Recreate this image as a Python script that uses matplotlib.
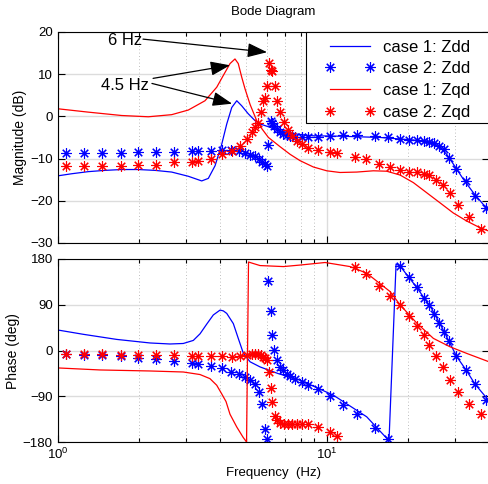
import matplotlib
matplotlib.use("Agg")
import matplotlib.pyplot as plt
from matplotlib.ticker import LogLocator, NullFormatter
from matplotlib.patches import Rectangle

plt.rcParams['font.family'] = ['Liberation Sans', 'DejaVu Sans']

# ---------------- case 1 (solid lines) ----------------
f_zdd1_mag = [1.000, 1.127, 1.299, 1.499, 1.729, 1.994, 2.300, 2.653, 3.059, 3.43, 3.63, 3.845,
              4.071, 4.25, 4.436, 4.63, 4.83, 5.11, 5.41, 5.65, 6.16, 6.71, 7.31, 7.96, 8.89,
              11.20, 15.78, 20.94, 24.21, 26.38, 27.93, 29.55, 32.20, 35.08, 38.21, 40.12]
zdd1_mag = [-14.1, -13.6, -13.1, -12.8, -12.6, -12.6, -12.8, -13.2, -14.2, -15.3, -14.7, -11.7,
            -6.6, -1.8, 2.1, 3.7, 2.5, 0.6, -1.0, -1.8, -2.6, -3.5, -4.0, -4.3, -4.6,
            -4.7, -5.0, -5.6, -6.2, -7.4, -9.0, -11.3, -14.9, -18.1, -20.9, -22.0]

f_zqd1_mag = [1.000, 1.299, 1.729, 2.172, 2.653, 3.059, 3.528, 3.90, 4.127, 4.37, 4.56, 4.69,
              4.83, 4.97, 5.19, 5.49, 5.75, 6.07, 6.71, 7.31, 7.96, 8.92, 10.0, 11.20, 12.93,
              14.90, 16.71, 18.73, 20.99, 23.53, 26.38, 29.55, 33.14, 37.15, 40.12]
zqd1_mag = [1.8, 1.0, 0.2, -0.1, 0.4, 1.5, 3.7, 6.9, 9.7, 12.5, 13.6, 12.5,
            9.3, 6.5, 2.8, -1.0, -3.0, -5.0, -7.2, -9.0, -10.5, -12.0, -12.9, -13.3, -13.2,
            -12.9, -13.0, -13.9, -15.7, -18.1, -20.5, -22.9, -24.8, -26.4, -27.2]

f_zdd1_ph = [1.000, 1.245, 1.657, 2.204, 2.615, 2.930, 3.192, 3.381, 3.58, 3.788, 4.012, 4.127,
             4.25, 4.496, 4.69, 4.897, 5.19, 5.65, 6.59, 7.96, 10.58, 14.08, 17.04, 18.10,
             18.73, 21.61, 24.57, 27.14, 30.43, 32.95, 35.59, 39.88]
zdd1_ph = [40.5, 32, 22, 15, 13, 14, 20, 33, 52, 70, 79.5, 78,
           73, 53, 24, -5, -22, -32, -45, -58, -87.5, -130, -177, 170,
           166, 124, 82, 40, -12, -38, -66, -97]

f_zqd1_ph = [1.000, 1.436, 2.204, 2.930, 3.381, 3.68, 3.90, 4.071, 4.223, 4.37, 4.63, 4.885,
             5.035, 5.12, 5.26, 5.65, 6.90, 7.96, 9.86, 12.21, 14.08, 17.19, 18.73, 21.61,
             24.91, 28.73, 33.14, 40.12]
zqd1_ph = [-34, -38, -40, -42, -47, -55, -68, -85, -100, -125, -150, -170,
           -179.5, 174, 172, 167, 165, 168, 173, 165, 152, 116, 90, 54,
           24, 7.5, -5.5, -22]

# ---------------- case 2 (asterisk markers) ----------------
f_zdd2 = [1.071, 1.252, 1.465, 1.715, 1.989, 2.320, 2.706, 3.166, 3.332, 3.724, 4.092, 4.409,
          4.72, 4.97, 5.19, 5.41, 5.60, 5.77, 5.90, 5.98, 6.07, 6.19, 6.28, 6.39, 6.52, 6.71,
          6.90, 7.10, 7.31, 7.62, 8.07, 8.54, 9.31, 10.29, 11.50, 12.96, 15.06, 16.90, 18.73,
          20.23, 21.66, 23.00, 24.01, 25.06, 26.16, 27.31, 28.49, 30.25, 32.81, 35.43, 39.10]
zdd2_mag = [-8.7, -8.7, -8.7, -8.6, -8.5, -8.5, -8.4, -8.2, -8.2, -8.2, -8.0, -7.9,
            -8.2, -8.7, -9.1, -9.5, -10.0, -10.7, -11.3, -11.7, -6.7, -1.0, -1.5, -2.3, -3.0, -3.8,
            -4.2, -4.5, -4.7, -4.8, -4.9, -4.9, -4.8, -4.6, -4.5, -4.5, -4.7, -5.0, -5.4,
            -5.5, -5.6, -5.8, -6.0, -6.4, -7.0, -7.8, -9.8, -12.5, -15.3, -18.9, -21.8]
zdd2_ph = [-7, -8, -9.5, -11.5, -14, -17, -20.5, -24, -26, -30, -35, -42,
           -46, -51, -58, -66, -81, -105, -154, -173, 137, 78, 30, 1, -19, -32,
           -38, -45, -50, -55, -61, -68, -76, -89, -106, -124, -151, -174, 166,
           145, 124, 103, 89, 72, 54, 37, 18, -10, -38, -66, -96]

f_zqd2 = [1.071, 1.252, 1.465, 1.715, 1.989, 2.320, 2.706, 3.166, 3.332, 3.724, 4.092, 4.436,
          4.76, 5.04, 5.26, 5.41, 5.57, 5.72, 5.82, 5.90, 5.98, 6.09, 6.18, 6.26, 6.42, 6.52,
          6.71, 6.96, 7.16, 7.41, 7.74, 8.07, 8.54, 9.31, 10.29, 10.92, 12.74, 14.00, 15.61,
          17.19, 18.73, 20.28, 21.61, 23.00, 24.01, 25.38, 26.95, 28.73, 30.77, 33.72, 37.3]
zqd2_mag = [-11.7, -11.7, -11.7, -11.7, -11.6, -11.5, -10.9, -10.7, -10.6, -10.0, -9.0, -8.3,
            -7.0, -5.4, -3.8, -2.6, -1.5, 1.0, 3.7, 4.4, 7.3, 12.6, 10.9, 10.7, 7.3, 3.6,
            1.0, -1.4, -3.2, -4.6, -5.8, -6.6, -7.4, -8.0, -8.4, -8.7, -9.6, -10.1, -11.2,
            -12.1, -12.8, -13.1, -13.3, -13.6, -13.9, -15.1, -16.3, -18.2, -21.0, -23.9, -26.7]
zqd2_ph = [-7, -7, -7.5, -8, -8.5, -9, -9.5, -11, -11, -11.5, -11.5, -12,
           -11, -9, -7.5, -7.5, -7.5, -9, -12, -15, -18.7, -41.6, -73, -100, -129, -137,
           -143, -144.6, -144.6, -144.6, -144, -143.5, -145, -149.8, -159, -167.5, 165, 150, 127,
           107, 90, 68, 48, 31, 11, -10, -33, -58, -82, -105, -124]

labels = ['case 1: Zdd', 'case 2: Zdd', 'case 1: Zqd', 'case 2: Zqd']
mag_ticks = [-30, -20, -10, 0, 10, 20]
ph_ticks = [-180, -90, 0, 90, 180]

BLUE = '#0000ff'
RED = '#ff0000'
STAR = (8, 2, 0)
star_kw = dict(ls='none', marker=STAR, ms=7.5, mew=0.8)

fig = plt.figure(figsize=(4.89, 4.84), dpi=100)
ax1 = fig.add_axes([0.118, 0.498, 0.882, 0.436])
ax2 = fig.add_axes([0.118, 0.0862, 0.882, 0.3788])

l1, = ax1.plot(f_zdd1_mag, zdd1_mag, color=BLUE, lw=0.9)
s1, = ax1.plot(f_zdd2, zdd2_mag, mec=BLUE, mfc=BLUE, **star_kw)
l2, = ax1.plot(f_zqd1_mag, zqd1_mag, color=RED, lw=0.9)
s2, = ax1.plot(f_zqd2, zqd2_mag, mec=RED, mfc=RED, **star_kw)

ax2.plot(f_zdd1_ph, zdd1_ph, color=BLUE, lw=0.9)
ax2.plot(f_zdd2, zdd2_ph, mec=BLUE, mfc=BLUE, **star_kw)
ax2.plot(f_zqd1_ph, zqd1_ph, color=RED, lw=0.9)
ax2.plot(f_zqd2, zqd2_ph, mec=RED, mfc=RED, **star_kw)

for ax in (ax1, ax2):
    ax.set_xscale('log')
    ax.set_xlim(1, 40.1)
    ax.xaxis.set_major_locator(LogLocator(base=10))
    ax.xaxis.set_minor_locator(LogLocator(base=10, subs=range(2, 10)))
    ax.xaxis.set_minor_formatter(NullFormatter())
    ax.tick_params(which='both', direction='in', top=True, right=True, labelsize=9.5, width=0.8)
    ax.tick_params(which='major', length=5)
    ax.tick_params(which='minor', length=3)
    ax.grid(True, which='major', color='#dcdcdc', lw=1.0, ls='-')
    ax.grid(True, which='minor', axis='x', color='#a8a8a8', lw=0.6, ls=(0, (1, 3)))
    ax.set_axisbelow(True)
    for sp in ax.spines.values():
        sp.set_linewidth(0.8)

ax1.set_ylim(-30, 20)
ax1.set_yticks(mag_ticks)
ax1.tick_params(axis='x', labelbottom=False)
ax1.set_ylabel('Magnitude (dB)', fontsize=10, labelpad=2)
ax1.set_title('Bode Diagram', fontsize=9.5, pad=12)

ax2.set_ylim(-180, 180)
ax2.set_yticks(ph_ticks)
ax2.set_ylabel('Phase (deg)', fontsize=10, labelpad=2)
ax2.set_xlabel('Frequency  (Hz)', fontsize=9.5, labelpad=3)

# legend box (frame drawn separately, as in the reference it runs past the right edge)
W, H = 489.0, 484.0
frame = Rectangle((306 / W, 1 - 123 / H), 1 - 306 / W + 0.01, (123 - 32) / H,
                  transform=fig.transFigure, facecolor='white', edgecolor='black',
                  lw=0.8, zorder=4.5, clip_on=False)
ax1.add_artist(frame)
leg = ax1.legend([l1, s1, l2, s2], labels, loc='upper left',
                 bbox_to_anchor=(318 / W, 1 - 33 / H), bbox_transform=fig.transFigure,
                 numpoints=2, handlelength=3.0, fontsize=12, frameon=False,
                 borderaxespad=0, labelspacing=0.4, borderpad=0.4, handletextpad=0.5)
leg.set_zorder(5)

arrow_kw = dict(arrowstyle='-|>,head_length=0.6,head_width=0.22', mutation_scale=20,
                color='black', lw=0.9, shrinkA=0, shrinkB=0)
ax1.text(1.78, 18.0, '6 Hz', ha='center', va='center', fontsize=12)
ax1.annotate('', xy=(6.0, 15.2), xytext=(2.075, 18.3), arrowprops=arrow_kw)
ax1.text(1.78, 7.3, '4.5 Hz', ha='center', va='center', fontsize=12)
ax1.annotate('', xy=(4.37, 12.1), xytext=(2.262, 9.0), arrowprops=arrow_kw)
ax1.annotate('', xy=(4.45, 3.0), xytext=(2.24, 7.8), arrowprops=arrow_kw)

fig.savefig('out.png', dpi=100)
